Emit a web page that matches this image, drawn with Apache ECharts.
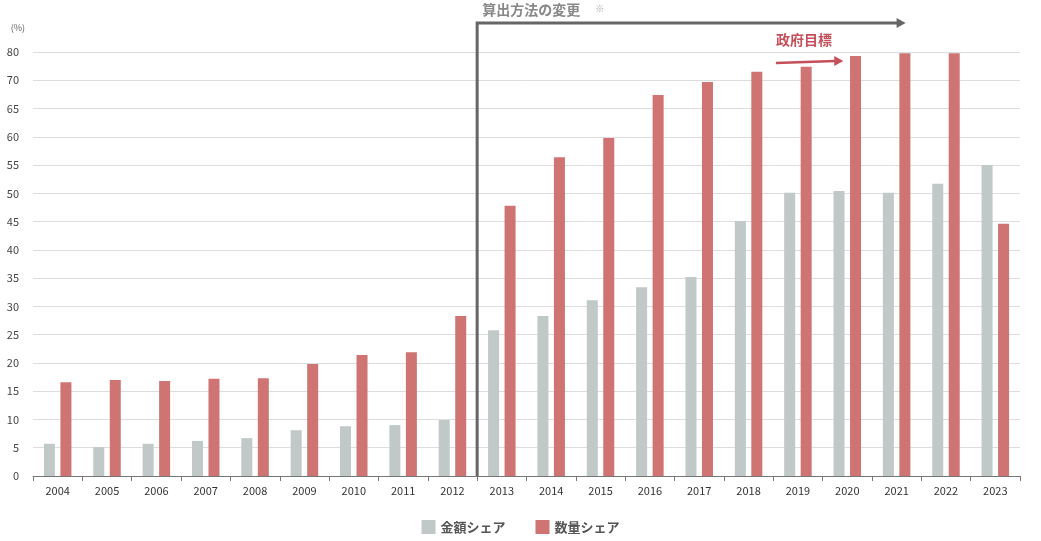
<!DOCTYPE html><html><head><meta charset="utf-8"><script src="https://cdn.jsdelivr.net/npm/echarts@6/dist/echarts.min.js"></script></head><body style="margin:0"><div id="c" style="width:1041px;height:541px"></div><script>
const years=['2004','2005','2006','2007','2008','2009','2010','2011','2012','2013','2014','2015','2016','2017','2018','2019','2020','2021','2022','2023'];
const kingaku=[5.7,5.1,5.7,6.2,6.7,8.1,8.8,9.0,9.9,25.8,28.3,31.1,33.4,35.2,45.1,50.1,50.4,50.1,51.7,55.0];
const suryo=[16.6,17.0,16.8,17.2,17.3,19.8,21.4,21.9,28.3,47.8,56.4,59.8,67.4,69.7,71.5,72.4,74.3,74.8,74.8,44.6];
const tickText={75:'80'};
const ch=echarts.init(document.getElementById('c'));
const font='"Noto Sans CJK JP","Noto Sans",sans-serif';
ch.setOption({animation:false,textStyle:{fontFamily:font},
grid:{left:33,right:21,top:52,bottom:65},
legend:{bottom:2,left:'center',itemWidth:14,itemHeight:14,itemGap:30,icon:'rect',textStyle:{color:'#555',fontSize:13,fontWeight:'bold'}},
xAxis:{type:'category',data:years,axisLine:{lineStyle:{color:'#777'}},axisTick:{show:true,lineStyle:{color:'#777'}},axisLabel:{color:'#333',fontSize:11,margin:9}},
yAxis:{type:'value',min:0,max:75,interval:5,name:'(%)',nameLocation:'end',nameGap:20,nameTextStyle:{color:'#666',fontSize:9,align:'right',padding:[0,8,0,0]},
axisLabel:{color:'#444',fontSize:11,margin:14,formatter:v=>tickText[v]||String(v)},splitLine:{lineStyle:{color:'#ddd'}},axisLine:{show:false},axisTick:{show:false}},
series:[{name:'金額シェア',type:'bar',data:kingaku,barWidth:11,barGap:'50%',itemStyle:{color:'#c0c8c8'}},
{name:'数量シェア',type:'bar',data:suryo,barWidth:11,itemStyle:{color:'#cf7373'}}]});
const p=(x,y)=>ch.convertToPixel({xAxisIndex:0,yAxisIndex:0},[x,y]);
const a=p(8,0),b=p(9,0),x0=(a[0]+b[0])/2,y0=a[1];
const xe=p(17,0)[0]+9, yt=23;
const t0=p(15,0)[0]-22, t1=p(16,74.3)[0]-4;
ch.setOption({graphic:[
{type:'polyline',shape:{points:[[x0,y0],[x0,yt],[xe-8,yt]]},style:{stroke:'#666',lineWidth:3,fill:null}},
{type:'polygon',shape:{points:[[xe-9,yt-5],[xe,yt],[xe-9,yt+5]]},style:{fill:'#666'}},
{type:'text',x:x0+5,y:3,style:{text:'算出方法の変更',fill:'#888',font:'bold 14px '+font}},
{type:'text',x:x0+118,y:4,style:{text:'※',fill:'#aaa',font:'9px '+font}},
{type:'text',x:t0,y:33,style:{text:'政府目標',fill:'#c5505a',font:'bold 14px '+font}},
{type:'line',shape:{x1:t0,y1:63,x2:t1-8,y2:61},style:{stroke:'#c5505a',lineWidth:2.5}},
{type:'polygon',shape:{points:[[t1-9,56],[t1,61],[t1-9,66]]},style:{fill:'#c5505a'}}
]});
</script></body></html>
